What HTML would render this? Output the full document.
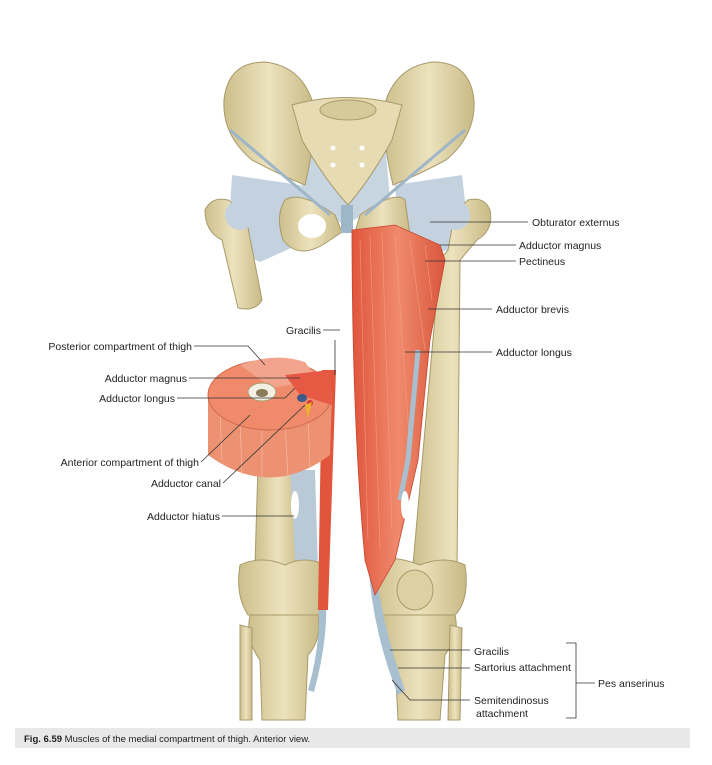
<!DOCTYPE html>
<html><head><meta charset="utf-8"><style>
html,body{margin:0;padding:0;background:#fff;}
body{width:712px;height:765px;position:relative;overflow:hidden;font-family:"Liberation Sans",sans-serif;}
svg{position:absolute;left:0;top:0;}
</style></head><body>
<svg width="712" height="765" viewBox="0 0 712 765" font-family="Liberation Sans, sans-serif" font-size="10.5" fill="#222">
<defs>
<linearGradient id="bone" x1="0" x2="1"><stop offset="0" stop-color="#cdbf8c"/><stop offset="0.5" stop-color="#ece2bd"/><stop offset="1" stop-color="#c9ba86"/></linearGradient>
<linearGradient id="mus" x1="0" x2="1"><stop offset="0" stop-color="#e0553c"/><stop offset="0.5" stop-color="#f08a6c"/><stop offset="1" stop-color="#d9563c"/></linearGradient>
</defs>
<rect x="15" y="728" width="675" height="20" fill="#e8e8e8"/>
<text x="24" y="742" font-size="9.5"><tspan font-weight="bold">Fig. 6.59</tspan> Muscles of the medial compartment of thigh. Anterior view.</text>

<!-- ligaments -->
<path d="M232 175 L300 185 L320 235 L260 262 L228 245 Z" fill="#c3d2de"/>
<path d="M395 185 L462 175 L470 245 L440 252 L400 235 Z" fill="#c3d2de"/>
<path d="M305 140 L345 200 L385 140 L390 200 L345 225 L300 200 Z" fill="#c7d5e0"/>
<!-- pelvis wings -->
<path d="M224 100 Q228 62 265 62 Q300 66 312 100 Q318 130 305 185 Q280 175 252 160 Q222 135 224 100 Z" fill="url(#bone)" stroke="#a89a6a"/>
<path d="M474 100 Q470 62 433 62 Q398 66 386 100 Q380 130 393 185 Q418 175 446 160 Q476 135 474 100 Z" fill="url(#bone)" stroke="#a89a6a"/>
<!-- sacrum -->
<path d="M292 105 Q345 90 402 105 L392 140 Q370 180 348 205 Q325 180 302 140 Z" fill="#e6dbb2" stroke="#a89a6a"/>
<ellipse cx="348" cy="110" rx="28" ry="10" fill="#d7ca9a" stroke="#a89a6a"/>
<circle cx="333" cy="148" r="2.5" fill="#fff"/><circle cx="362" cy="148" r="2.5" fill="#fff"/>
<circle cx="333" cy="165" r="2.5" fill="#fff"/><circle cx="362" cy="165" r="2.5" fill="#fff"/>
<!-- pubic region -->
<path d="M285 200 Q300 190 335 215 L342 232 L330 240 Q300 262 283 240 Q275 215 285 200 Z" fill="url(#bone)" stroke="#a89a6a"/>
<path d="M405 200 Q395 190 360 215 L355 232 L372 240 Q400 250 410 235 Z" fill="url(#bone)" stroke="#a89a6a"/>
<ellipse cx="312" cy="226" rx="14" ry="12" fill="#fff"/>
<rect x="341" y="205" width="12" height="28" fill="#9eb7c8"/>
<line x1="230" y1="130" x2="330" y2="215" stroke="#9fb6c8" stroke-width="3"/>
<line x1="465" y1="130" x2="365" y2="215" stroke="#9fb6c8" stroke-width="3"/>
<!-- left femur -->
<path d="M205 210 Q212 196 228 200 L245 212 L262 300 Q255 312 238 308 L222 240 Q205 232 205 210 Z" fill="url(#bone)" stroke="#a89a6a"/>
<circle cx="240" cy="215" r="15" fill="#c3d2de"/>
<!-- right femur -->
<path d="M490 210 Q484 196 468 200 L455 212 L448 250 L440 260 L413 565 L457 570 L460 260 L477 240 Q494 230 490 210 Z" fill="url(#bone)" stroke="#a89a6a"/>
<circle cx="455" cy="215" r="15" fill="#c3d2de"/>
<!-- right knee + tibia -->
<path d="M375 560 Q395 555 420 565 Q445 555 465 565 Q470 600 455 615 L380 615 Q368 595 375 560 Z" fill="url(#bone)" stroke="#a89a6a"/>
<ellipse cx="415" cy="590" rx="18" ry="20" fill="#ddd1a3" stroke="#a89a6a"/>
<path d="M382 615 L455 615 Q460 635 445 655 L440 720 L398 720 L395 660 Q378 640 382 615 Z" fill="url(#bone)" stroke="#a89a6a"/>
<path d="M450 625 L462 628 L460 720 L448 720 Z" fill="url(#bone)" stroke="#a89a6a"/>
<path d="M375 560 Q380 620 405 690 L398 695 Q372 630 368 560 Z" fill="#a8bfd0"/>
<!-- right muscles -->
<path d="M352 230 L395 225 L440 245 L445 260 L430 340 L418 460 L395 560 L375 595 L365 560 Q352 420 352 230 Z" fill="url(#mus)" stroke="#c4452e" stroke-width="0.8"/>
<g stroke="#f5a48c" stroke-width="0.7" opacity="0.7">
<line x1="360" y1="240" x2="368" y2="540"/><line x1="370" y1="235" x2="380" y2="550"/><line x1="382" y1="232" x2="392" y2="530"/><line x1="395" y1="235" x2="410" y2="450"/><line x1="410" y1="240" x2="425" y2="350"/><line x1="425" y1="245" x2="432" y2="300"/>
</g>
<path d="M418 350 L408 460 L400 500" stroke="#a8bfd0" stroke-width="5" fill="none"/>
<ellipse cx="405" cy="505" rx="4" ry="14" fill="#fff"/>
<!-- left lower femur -->
<path d="M258 465 L296 465 L300 565 L255 565 Z" fill="url(#bone)" stroke="#a89a6a"/>
<path d="M290 470 L315 470 L318 570 L295 560 Z" fill="#b9c9d6"/>
<ellipse cx="295" cy="505" rx="4" ry="14" fill="#fff"/>
<path d="M240 565 Q262 555 285 565 Q305 555 325 565 Q332 600 318 615 L248 615 Q235 595 240 565 Z" fill="url(#bone)" stroke="#a89a6a"/>
<path d="M250 615 L318 615 Q322 640 308 655 L305 720 L262 720 L260 660 Q245 640 250 615 Z" fill="url(#bone)" stroke="#a89a6a"/>
<path d="M240 625 L252 628 L252 720 L240 720 Z" fill="url(#bone)" stroke="#a89a6a"/>
<path d="M318 600 Q322 640 308 690 L314 692 Q328 640 326 600 Z" fill="#a8bfd0"/>
<path d="M322 370 L336 370 L328 610 L318 610 Z" fill="#e0553c"/>
<!-- cross-section -->
<path d="M208 395 L208 455 Q270 500 330 455 L332 395 Z" fill="#ec9273"/>
<g stroke="#f6b9a2" stroke-width="0.7"><line x1="220" y1="410" x2="222" y2="460"/><line x1="240" y1="420" x2="242" y2="475"/><line x1="262" y1="425" x2="262" y2="480"/><line x1="285" y1="422" x2="288" y2="478"/><line x1="308" y1="415" x2="310" y2="468"/></g>
<ellipse cx="270" cy="395" rx="62" ry="35" fill="#ef8a6a" stroke="#d0674c"/>
<path d="M240 365 Q275 352 305 362 L318 380 L272 388 Z" fill="#f3a48d"/>
<path d="M285 375 L330 370 L332 405 L300 395 Z" fill="#e65a44"/>
<ellipse cx="262" cy="392" rx="14" ry="9" fill="#f3efe2" stroke="#a89a6a"/>
<ellipse cx="262" cy="393" rx="6" ry="4" fill="#8c7d5a"/>
<ellipse cx="302" cy="398" rx="5" ry="4" fill="#3d5a8a"/>
<circle cx="310" cy="403" r="3" fill="#d03a30"/>
<path d="M305 405 L312 402 L308 418 Z" fill="#f0b030"/>

<g stroke="#333" stroke-width="0.8" fill="none">
<path d="M430 222 L528 222"/><path d="M440 245 L516 245"/><path d="M425 261 L516 261"/>
<path d="M428 309 L492 309"/><path d="M405 352 L492 352"/>
<path d="M323 330 L340 330"/><path d="M335 340 L335 375"/>
<path d="M194 346 L248 346 L265 365"/><path d="M189 378 L300 378"/><path d="M177 398 L285 398 L295 388"/>
<path d="M201 462 L250 415"/><path d="M223 483 L305 405"/><path d="M222 516 L294 516"/>
<path d="M390 650 L470 650"/><path d="M398 668 L470 668"/><path d="M392 680 L410 700 L470 700"/>
<path d="M566 643 L576 643 L576 718 L566 718"/><path d="M576 683 L595 683"/>
</g>
<text x="532" y="226">Obturator externus</text>
<text x="519" y="249">Adductor magnus</text>
<text x="519" y="265">Pectineus</text>
<text x="496" y="313">Adductor brevis</text>
<text x="496" y="356">Adductor longus</text>
<text x="321" y="334" text-anchor="end">Gracilis</text>
<text x="192" y="350" text-anchor="end">Posterior compartment of thigh</text>
<text x="187" y="382" text-anchor="end">Adductor magnus</text>
<text x="175" y="402" text-anchor="end">Adductor longus</text>
<text x="199" y="466" text-anchor="end">Anterior compartment of thigh</text>
<text x="221" y="487" text-anchor="end">Adductor canal</text>
<text x="220" y="520" text-anchor="end">Adductor hiatus</text>
<text x="474" y="655">Gracilis</text>
<text x="474" y="671">Sartorius attachment</text>
<text x="474" y="704">Semitendinosus</text>
<text x="476" y="717">attachment</text>
<text x="598" y="687">Pes anserinus</text>
</svg>
</body></html>
